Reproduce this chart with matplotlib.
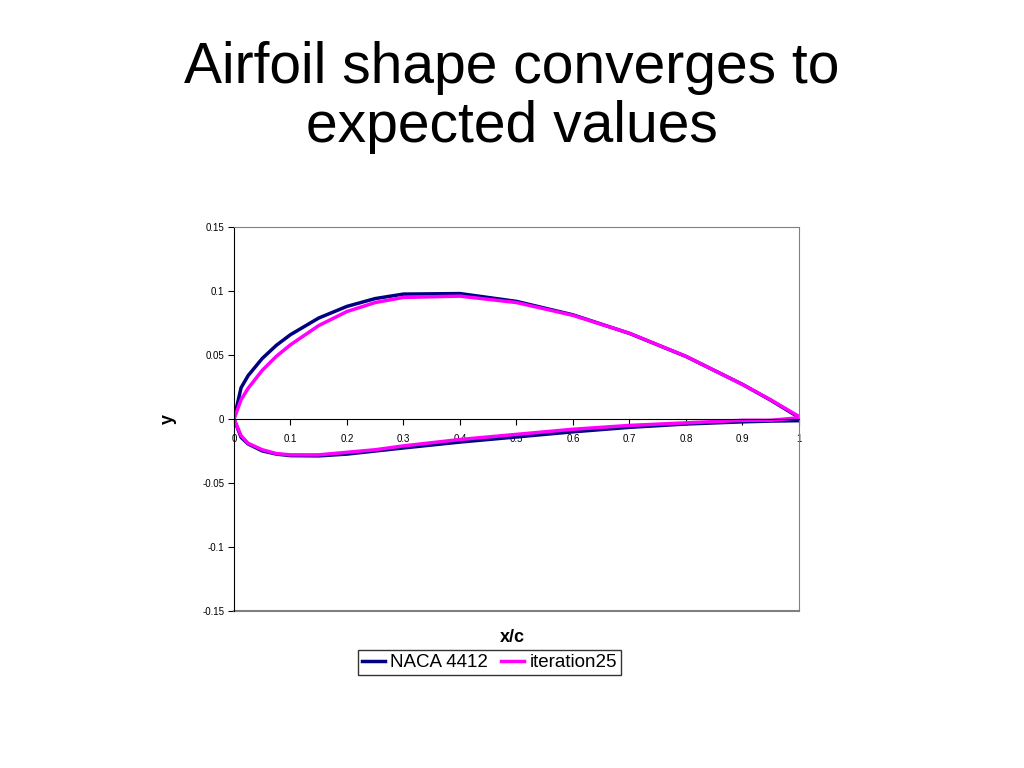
import matplotlib
matplotlib.use("Agg")
import matplotlib.pyplot as plt

x_pts = [0, 0.0125, 0.025, 0.05, 0.075, 0.1, 0.15, 0.2, 0.25, 0.3, 0.4, 0.5, 0.6, 0.7, 0.8, 0.9, 0.95, 1.0]
naca_upper = [0, 0.0244, 0.0339, 0.0473, 0.0576, 0.0659, 0.0789, 0.0880, 0.0941, 0.0976, 0.0980, 0.0919, 0.0814, 0.0669, 0.0489, 0.0271, 0.0147, 0.0013]
naca_lower = [0, -0.0143, -0.0195, -0.0249, -0.0274, -0.0286, -0.0288, -0.0274, -0.0250, -0.0226, -0.0180, -0.0140, -0.0100, -0.0065, -0.0039, -0.0022, -0.0016, -0.0013]
it_upper = [0, 0.015, 0.024, 0.038, 0.049, 0.058, 0.073, 0.084, 0.091, 0.095, 0.096, 0.091, 0.081, 0.067, 0.049, 0.027, 0.015, 0.002]
it_lower = [0, -0.013, -0.019, -0.024, -0.027, -0.028, -0.028, -0.026, -0.024, -0.021, -0.016, -0.012, -0.008, -0.005, -0.003, -0.001, -0.001, 0.001]
x_ticks = [0, 0.1, 0.2, 0.3, 0.4, 0.5, 0.6, 0.7, 0.8, 0.9, 1]
x_tick_labels = ["0", "0.1", "0.2", "0.3", "0.4", "0.5", "0.6", "0.7", "0.8", "0.9", "1"]
y_ticks = [-0.15, -0.1, -0.05, 0, 0.05, 0.1, 0.15]
y_tick_labels = ["-0.15", "-0.1", "-0.05", "0", "0.05", "0.1", "0.15"]

plt.rcParams["font.family"] = "Liberation Sans"
fig = plt.figure(figsize=(10.24, 7.68), dpi=100)
fig.text(0.5, 0.873, "Airfoil shape converges to\nexpected values", ha="center", va="center", fontsize=41, linespacing=1.12)
ax = fig.add_axes([0.2285, 0.2044, 0.5517, 0.5])

def loop(up, lo):
    xs = x_pts[::-1] + x_pts[1:]
    ys = up[::-1] + lo[1:]
    return xs, ys

ax.plot(*loop(naca_upper, naca_lower), color="#000080", lw=2.5, label="NACA 4412", solid_joinstyle="round")
ax.plot(*loop(it_upper, it_lower), color="#FF00FF", lw=2.5, label="iteration25", solid_joinstyle="round")
ax.set_xlim(0, 1)
ax.set_ylim(-0.15, 0.15)
ax.spines["bottom"].set_position(("data", 0))
ax.axhline(-0.15, color="#808080", lw=1.5, clip_on=False)
for s in ["top", "right"]:
    ax.spines[s].set_color("#808080")
ax.spines["bottom"].set_color("black")
ax.spines["left"].set_color("black")
ax.set_xticks(x_ticks)
ax.set_xticklabels(x_tick_labels, fontsize=7)
ax.set_yticks(y_ticks)
ax.set_yticklabels(y_tick_labels, fontsize=7)
ax.tick_params(axis="x", direction="out", length=4, pad=7)
ax.tick_params(axis="y", direction="out", length=4, pad=3)
ax.set_ylabel("y", fontsize=13, fontweight="bold", labelpad=18)
fig.text(0.5, 0.17, "x/c", ha="center", va="center", fontsize=13, fontweight="bold")
fig.legend(loc="center", bbox_to_anchor=(0.478, 0.137), ncol=2, frameon=True, fancybox=False,
           edgecolor="black", fontsize=13.5, handlelength=1.2, handletextpad=0.3, columnspacing=0.7,
           borderpad=0.2)
fig.savefig("out.png", dpi=100)
